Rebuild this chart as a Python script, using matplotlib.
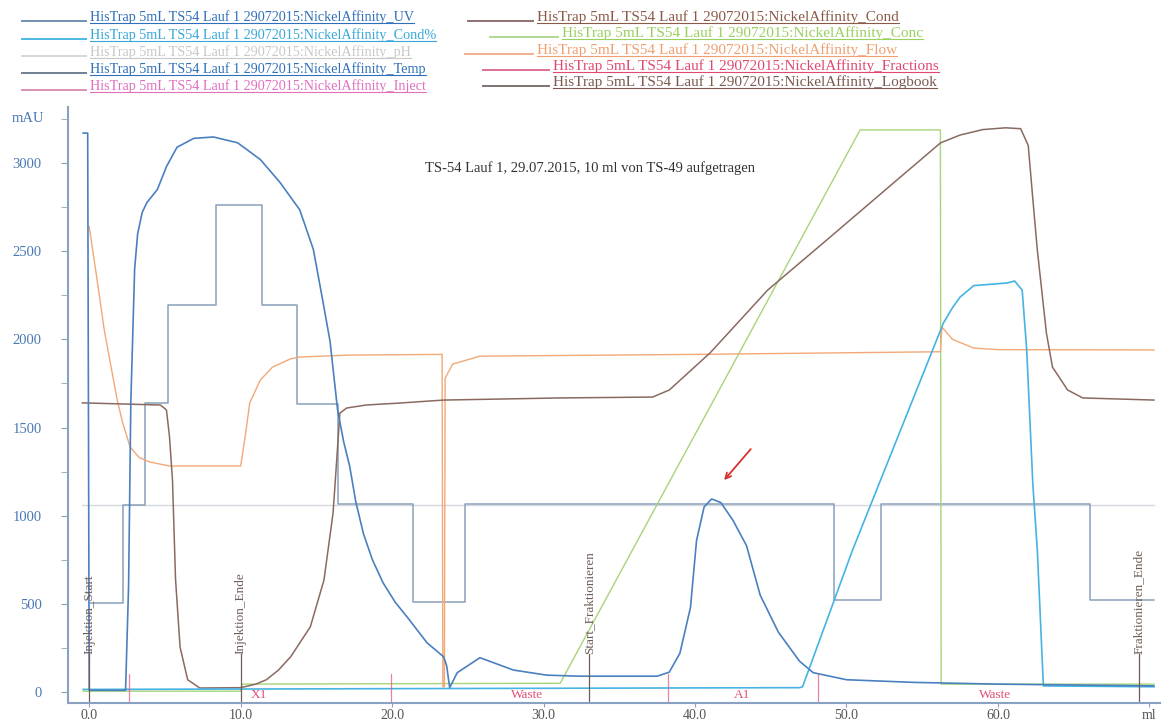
import matplotlib
matplotlib.use("Agg")
import matplotlib.pyplot as plt
from matplotlib.lines import Line2D

plt.rcParams['font.family'] = ['Liberation Serif', 'DejaVu Serif']

# --- data (x in ml, y in mAU-scale) ---
uv_x = [-0.4, -0.1, 0.0, 2.4, 2.6, 2.75, 3.0, 3.2, 3.5, 3.8, 4.5, 5.1, 5.8, 6.9, 8.2, 9.8,
        11.3, 12.6, 13.9, 14.8, 15.4, 15.9, 16.4, 16.8, 17.2, 17.6, 18.1, 18.7, 19.4, 20.2,
        21.0, 22.3, 23.4, 23.6, 23.8, 24.3, 25.8, 28.0, 30.2, 32.4, 37.5, 38.3, 39.0, 39.7,
        40.1, 40.6, 41.1, 41.7, 42.5, 43.4, 44.3, 45.5, 46.9, 47.8, 50.0, 54.4, 60.0, 70.3]
uv_y = [3170, 3170, 10, 10, 600, 1650, 2400, 2600, 2720, 2775, 2850, 2980, 3090, 3140, 3148, 3115,
        3020, 2890, 2735, 2510, 2230, 1990, 1600, 1420, 1280, 1080, 900, 750, 620, 510,
        425, 280, 200, 150, 25, 110, 195, 125, 96, 90, 90, 113, 220, 480,
        860, 1050, 1095, 1075, 975, 830, 550, 340, 175, 110, 70, 55, 45, 35]

condp_x = [-0.4, 46.9, 47.1, 50.4, 56.2, 56.4, 57.0, 57.5, 58.4, 60.6, 61.1, 61.6, 61.9, 62.3, 62.6, 63.0, 70.3]
condp_y = [15, 25, 30, 805, 2050, 2093, 2180, 2240, 2305, 2320, 2331, 2280, 1940, 1185, 805, 35, 30]

ph_x = [-0.45, 70.3]
ph_y = [1060, 1060]

temp_x = [0.05, 2.2, 3.7, 5.2, 8.4, 11.4, 13.7, 16.4, 21.4, 24.8, 49.2, 52.3, 66.1, 70.3]
temp_y = [505, 1060, 1639, 2195, 2762, 2195, 1635, 1065, 510, 1065, 520, 1065, 520, 520]

cond_x = [-0.45, 4.7, 5.1, 5.3, 5.5, 5.7, 6.0, 6.5, 7.3, 10.0, 11.0, 11.7, 12.5, 13.3, 14.6,
          15.5, 16.1, 16.25, 16.4, 16.55, 17.0, 18.3, 20.5, 23.4, 31.1, 37.2, 38.3, 41.0, 44.8, 48.7,
          53.1, 56.2, 57.5, 59.0, 60.5, 61.5, 62.0, 62.3, 62.6, 63.2, 63.6, 64.6, 65.6, 70.3]
cond_y = [1640, 1628, 1600, 1450, 1200, 640, 255, 70, 23, 25, 45, 70, 125, 200, 370,
          635, 1015, 1200, 1390, 1582, 1611, 1628, 1639, 1656, 1668, 1673, 1713, 1924, 2280, 2564,
          2887, 3114, 3159, 3190, 3200, 3195, 3100, 2800, 2507, 2036, 1843, 1713, 1668, 1656]

conc_x = [-0.4, 10.0, 10.1, 31.1, 50.9, 56.2, 56.25, 70.3]
conc_y = [5, 5, 45, 50, 3188, 3188, 45, 45]

flow_x = [0.0, 0.5, 1.0, 1.85, 2.2, 2.7, 3.3, 4.0, 5.3, 10.0, 10.3, 10.6, 11.3, 12.1, 13.3,
          13.9, 17.2, 23.3, 23.35, 23.45, 23.5, 24.0, 25.8, 40.0, 56.2, 56.3, 57.0, 58.4, 60.0, 70.3]
flow_y = [2640, 2350, 2050, 1656, 1530, 1390, 1330, 1305, 1282, 1282, 1450, 1640, 1770, 1843, 1890,
          1900, 1911, 1915, 30, 30, 1780, 1860, 1905, 1915, 1930, 2070, 2000, 1951, 1942, 1940]

frac_x = [2.6, 19.9, 38.2, 48.1]
frac_labels = ['X1', 'Waste', 'A1', 'Waste']
frac_label_x = [11.2, 28.9, 43.1, 59.8]

log_x = [0.0, 10.0, 33.0, 69.3]
log_labels = ['Injektion_Start', 'Injektion_Ende', 'Start_Fraktionieren', 'Fraktionieren_Ende']

legend_names = ['UV', 'Cond%', 'pH', 'Temp', 'Inject', 'Cond', 'Conc', 'Flow', 'Fractions', 'Logbook']
legend_prefix = 'HisTrap 5mL TS54 Lauf 1 29072015:NickelAffinity_'

note = 'TS-54 Lauf 1, 29.07.2015, 10 ml von TS-49 aufgetragen'

# --- colours ---
c_uv = '#4a80c0'
c_condp = '#45b3e3'
c_ph = '#d4d8dc'
c_temp = '#8aa0bb'
c_cond = '#8a6a60'
c_conc = '#a8d47a'
c_flow = '#f2a877'
c_frac = '#e05078'
c_log = '#6e5c58'

fig = plt.figure(figsize=(11.7, 7.26), dpi=100)
W, H = 1170.0, 726.0
ax = fig.add_axes([68 / W, 1 - 703 / H, (1160 - 68) / W, (703 - 107) / H])

ax.plot(ph_x, ph_y, color=c_ph, lw=1.0)
ax.step(temp_x, temp_y, where='post', color=c_temp, lw=1.1)
ax.plot(conc_x, conc_y, color=c_conc, lw=1.0)
ax.plot(flow_x, flow_y, color=c_flow, lw=1.0)
ax.plot(cond_x, cond_y, color=c_cond, lw=1.1)
ax.plot(condp_x, condp_y, color=c_condp, lw=1.2)
ax.plot(uv_x, uv_y, color=c_uv, lw=1.2)

# fractions
for fx in frac_x:
    ax.plot([fx, fx], [-62, 105], color=c_frac, lw=0.9, alpha=0.7)
for lx, lab in zip(frac_label_x, frac_labels):
    ax.text(lx, -18, lab, color=c_frac, fontsize=9.5, ha='center', va='center')

# logbook
for lx, lab in zip(log_x, log_labels):
    ax.plot([lx, lx], [-62, 215], color=c_log, lw=0.9)
    ax.text(lx, 215, lab, rotation=90, color=c_log, fontsize=9.5, ha='center', va='bottom')

# note and arrow
ax.text(22.2, 2972, note, fontsize=10.5, color='#333333', va='center')
ax.annotate('', xy=(41.8, 1190), xytext=(43.8, 1390),
            arrowprops=dict(arrowstyle='->', color='#d83030', lw=1.3))

ax.set_xlim(-1.4, 70.7)
ax.set_ylim(-62, 3318)
for s in ['top', 'right']:
    ax.spines[s].set_visible(False)
for s in ['left', 'bottom']:
    ax.spines[s].set_color('#8aa2c2')
    ax.spines[s].set_linewidth(1.5)

ax.set_yticks([0, 500, 1000, 1500, 2000, 2500, 3000])
ax.set_yticks([250, 750, 1250, 1750, 2250, 2750, 3250], minor=True)
ax.set_xticks([0, 10, 20, 30, 40, 50, 60, 70])
ax.set_xticklabels(['0.0', '10.0', '20.0', '30.0', '40.0', '50.0', '60.0', 'ml'])
ax.tick_params(axis='y', which='both', colors='#8aa2c2', labelcolor='#4a78b4', labelsize=10.5,
               length=5, pad=14)
ax.tick_params(axis='x', colors='#8aa2c2', labelcolor='#555555', labelsize=10, length=3, pad=1.5)
ax.text(-0.022, 3255, 'mAU', transform=ax.get_yaxis_transform(), ha='right', va='center',
        color='#4a78b4', fontsize=10.5)

# --- legend block at the top, drawn in figure pixels ---
leg_text_col = ['#3070b8', '#38a8d8', '#c8c8c8', '#3070b8', '#e070c0',
                '#8a5a48', '#9ad060', '#f0a070', '#e04870', '#7a5a50']
leg_line_col = ['#7090b0', '#50b8e0', '#d8d8d8', '#708090', '#d890b8',
                '#907070', '#b0d890', '#f0b090', '#e07090', '#807070']
seg_start = [22, 22, 22, 22, 22, 468, 490, 465, 483, 483]
text_start = [90, 90, 90, 90, 90, 537, 562, 537, 553, 553]
row_y = [17, 35, 52, 69, 86, 17, 33, 50, 66, 82]
leg_size = [10.2, 10.2, 10.2, 10.2, 10.2, 11.0, 11.0, 11.0, 11.0, 11.0]

fig.canvas.draw()
renderer = fig.canvas.get_renderer()
for i, name in enumerate(legend_names):
    t = fig.text(text_start[i] / W, 1 - row_y[i] / H, legend_prefix + name, color=leg_text_col[i],
                 fontsize=leg_size[i], ha='left', va='center')
    ext = t.get_window_extent(renderer)
    x_end = ext.x1
    yl = 1 - (row_y[i] + 6) / H
    fig.add_artist(Line2D([seg_start[i] / W, (text_start[i] - 4) / W], [yl + 2 / H, yl + 2 / H],
                          color=leg_line_col[i], lw=1.4, transform=fig.transFigure))
    fig.add_artist(Line2D([text_start[i] / W, x_end / W], [yl, yl],
                          color=leg_text_col[i], lw=0.8, transform=fig.transFigure))

fig.savefig('out.png', dpi=100)
